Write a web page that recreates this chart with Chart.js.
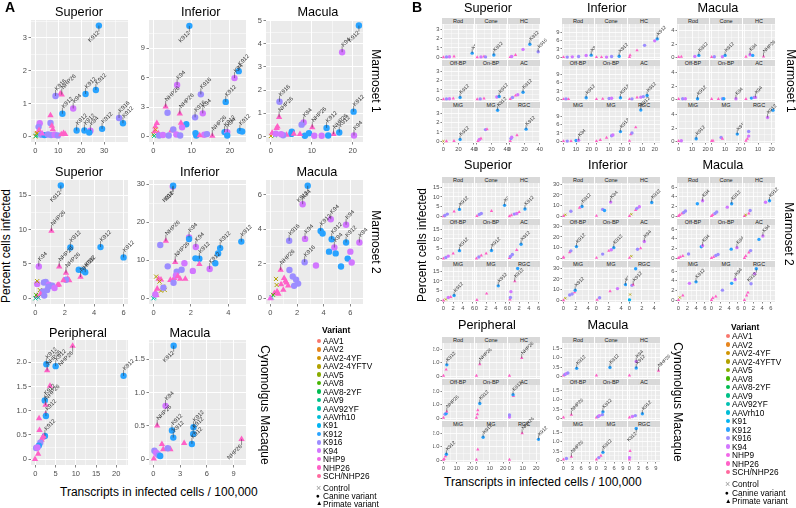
<!DOCTYPE html>
<html>
<head>
<meta charset="utf-8">
<script src="https://cdn.jsdelivr.net/npm/chart.js@4.4.1/dist/chart.umd.min.js"></script>
<style>
  body { margin: 0; background: #fff; }
  #fig { position: relative; width: 796px; height: 508px; overflow: hidden; font-family: "Liberation Sans", Arial, sans-serif; }
  #fig canvas { position: absolute; }
  .t { position: absolute; white-space: nowrap; line-height: 1; color: #000; }
  .strip { position: absolute; background: #D9D9D9; color: #1A1A1A; font-size: 5.5px; text-align: center; height: 6px; line-height: 6px; }
</style>
</head>
<body>
<div id="fig"></div>
<script>
// ---- data ----
const variants = ['AAV1', 'AAV2', 'AAV2-4YF', 'AAV2-4YFTV', 'AAV5', 'AAV8', 'AAV8-2YF', 'AAV9', 'AAV92YF', 'AAVrh10',
  'K91', 'K912', 'K916', 'K94', 'NHP9', 'NHP26', 'SCH/NHP26'];
const cellTypes = ['Rod', 'Cone', 'HC', 'Off-BP', 'On-BP', 'AC', 'MiG', 'MG', 'RGC'];

// panel A points: [transcripts, percent infected, variant, label]
const aM1Sup = [
  [27.7,3.37,'K912','K912'],[11.5,1.27,'NHP26','NHP26'],[10.9,1.3,'NHP26',''],[8.8,1.23,'K916','K916'],
  [11.8,0.69,'K912','K912'],[16.5,0.85,'K94','K94'],[21.9,1.29,'K912','K912'],[26.4,1.41,'K912','K912'],
  [18.0,0.18,'K912','K912'],[21.4,0.18,'K912','K912'],[24.0,0.17,'K94','K94'],[23.5,0.12,'K912',''],
  [29.1,0.23,'K912','K912'],[36.5,0.56,'K916','K916'],[38.2,0.40,'K912','K912'],[6.6,0.64,'NHP26',''],
  [6.6,0.41,'K916',''],[7.2,0.32,'NHP26',''],[7.6,0.21,'NHP26',''],[1.9,0.40,'K94',''],[1.4,0.29,'K916',''],
  [1.6,0.19,'NHP26',''],[0,0,'AAV2-4YFTV',''],[0.5,0.08,'AAV2',''],[1.0,0.05,'AAV8',''],[0.3,0.02,'AAV9',''],
  [1.5,0.03,'AAV92YF',''],[0.8,0.1,'AAV2-4YF',''],[2.6,0.05,'K916',''],[4.0,0.04,'K912',''],[5.5,0.06,'K916',''],
  [6.9,0.04,'K916',''],[8.4,0.05,'K94',''],[9.8,0.03,'K916',''],[11.3,0.06,'NHP26',''],[12.3,0.1,'NHP26',''],
  [13.0,0.07,'NHP26',''],[3.0,0.08,'NHP9','']
];
const aM1Inf = [
  [9.4,11.3,'K912','K912'],[6.2,5.25,'K94','K94'],[3.2,3.03,'NHP26','NHP26'],[3.7,2.42,'K916',''],
  [6.9,2.32,'NHP26','NHP26'],[12.4,4.3,'K916','K916'],[10.9,1.95,'K916','K916'],[12.9,2.36,'K94','K94'],
  [21.2,5.96,'K94','K94'],[22.3,6.67,'K912','K912'],[18.9,3.53,'K912','K912'],[15.4,0.05,'NHP26','NHP26'],
  [18.6,0.44,'K912','K912'],[19.3,0.44,'K94','K94'],[19.3,0.1,'K912',''],[22.6,0.57,'K912','K912'],
  [23.2,0.5,'K912',''],[8.6,1.25,'K912',''],[7.5,0.94,'K94',''],[7.2,1.38,'NHP26',''],[4.7,0.6,'NHP26',''],
  [5.2,0.7,'K916',''],[11.2,0.1,'K912',''],[11.0,0.34,'K912',''],[13.3,0.17,'K94',''],[14.0,0.24,'K916',''],
  [12.1,0.1,'NHP26',''],[0,0.2,'AAV2-4YFTV',''],[0.5,1.0,'NHP26',''],[0.9,1.35,'NHP26',''],[0.3,0.5,'NHP26',''],
  [1.3,0.3,'NHP26',''],[0.2,0.05,'AAV9',''],[1.5,0.1,'K916',''],[2.5,0.15,'K94',''],[4.0,0.1,'K916',''],
  [6.0,0.2,'K94',''],[7.0,0.1,'K916',''],[0.6,0.7,'AAV2','']
];
const aM1Mac = [
  [21.5,4.79,'K912','K912'],[17.4,3.64,'K94','K94'],[2.1,1.5,'K916','K916'],[2.0,0.83,'NHP26','NHP26'],
  [8.0,0.6,'K94','K94'],[7.5,0.51,'K916',''],[10.1,0.39,'NHP26','NHP26'],[13.6,0.37,'K912','K912'],
  [15.3,0.1,'NHP26','NHP26'],[16.7,0.17,'K912','K912'],[20.2,1.07,'K912','K912'],[20.3,0.04,'K94','K94'],
  [5.1,0.2,'K912',''],[5.0,0.11,'K912',''],[8.3,0.03,'K912',''],[9.3,0.14,'K912',''],[10.6,0.03,'K94',''],
  [12.4,0.03,'K94',''],[14.0,0.04,'K912',''],[1.4,0.36,'NHP26',''],[1.6,0.42,'NHP26',''],[3.8,0.07,'NHP26',''],
  [5.6,0.11,'NHP26',''],[7.1,0.1,'NHP26',''],[3.0,0.05,'K916',''],[0,0.02,'AAV2-4YFTV',''],[0.5,0.1,'AAV2',''],
  [1.0,0.05,'AAV9',''],[0.3,0.15,'NHP26',''],[1.2,0.12,'K94',''],[2.5,0.1,'K94','']
];
const aM2Sup = [
  [1.73,16.4,'K912','K912'],[1.09,9.8,'NHP26','NHP26'],[0.23,4.64,'K94','K94'],[1.62,4.6,'NHP26','NHP26'],
  [2.08,3.7,'NHP26','NHP26'],[2.38,7.4,'K912','K912'],[4.43,7.45,'K912','K912'],[6.0,5.95,'K912','K912'],
  [2.95,4.15,'K912',''],[3.23,4.06,'K912',''],[3.39,3.8,'K912','K912'],[3.07,3.1,'NHP26','NHP26'],
  [2.2,2.85,'NHP26',''],[2.3,2.6,'NHP26',''],[2.08,2.7,'K916',''],[1.9,2.6,'NHP26',''],[0.12,2.1,'K94',''],
  [0.58,2.3,'K916',''],[0.7,2.4,'K916',''],[0.92,2.0,'K94',''],[1.15,1.85,'K916',''],[0.88,1.7,'K916',''],
  [1.5,1.9,'NHP26',''],[1.6,2.0,'NHP26',''],[0.12,2.5,'AAV2-4YFTV',''],[0.3,1.2,'AAV2-4YFTV',''],
  [0.5,1.0,'K916',''],[0.35,0.6,'NHP26',''],[0.1,0.3,'NHP26',''],[0,0,'AAV9',''],[0.2,0.1,'AAV92YF',''],
  [0.05,0.5,'AAV8',''],[0.6,0.4,'K916',''],[0.8,1.2,'K916',''],[1.3,1.5,'K94','']
];
const aM2Inf = [
  [1.03,29.4,'K94','K94'],[1.05,29.6,'K912','K912'],[0.66,15.1,'NHP26','NHP26'],[0.36,14.0,'K916',''],
  [1.9,16.0,'K94','K94'],[1.9,15.6,'K912',''],[2.26,13.5,'K94','K94'],[1.16,9.5,'NHP26','NHP26'],
  [2.45,10.4,'K912','K912'],[2.24,10.5,'K912',''],[3.56,13.2,'K912','K912'],[3.45,11.8,'K912',''],
  [4.69,14.9,'K912','K912'],[2.45,8.95,'NHP26',''],[3.0,7.7,'K94','K912'],[3.3,9.2,'K912',''],
  [1.65,9.2,'K94',''],[2.1,7.2,'K94',''],[0.76,8.4,'K916',''],[0.27,5.1,'NHP26',''],[0.4,4.9,'NHP26',''],
  [0.9,4.8,'NHP26',''],[1.1,5.3,'NHP26',''],[1.42,5.1,'NHP26',''],[1.7,5.1,'NHP26',''],[1.5,7.5,'K916',''],
  [1.24,7.0,'K916',''],[1.2,6.0,'K94',''],[1.07,4.1,'K916',''],[1.3,5.8,'NHP26',''],[0.14,5.7,'AAV2-4YFTV',''],
  [0.32,4.4,'AAV2-4YFTV',''],[0.5,3.1,'AAV2-4YFTV',''],[0.6,2.2,'AAV2-4YFTV',''],[0.4,2.0,'AAV2-4YFTV',''],
  [0.53,2.8,'K916',''],[0.1,1.5,'NHP26',''],[0.15,0.8,'NHP26',''],[0.05,0.3,'AAV9',''],[0,0,'AAV92YF',''],
  [0.2,2.5,'NHP26',''],[0.1,1.0,'K94','']
];
const aM2Mac = [
  [2.8,6.52,'K912','K912'],[2.42,5.45,'K94','K94'],[1.41,3.33,'K916','K916'],[2.6,3.44,'K94','K94'],
  [3.77,3.9,'K912','K912'],[3.92,3.75,'K912',''],[4.53,4.58,'K94','K94'],[4.6,3.42,'K912','K912'],
  [5.68,4.26,'K94','K94'],[5.68,3.23,'K912','K912'],[6.68,3.23,'K94','K94'],[4.8,2.94,'K94','K94'],
  [4.4,2.7,'K912',''],[4.9,2.6,'K912',''],[5.8,2.3,'K912',''],[5.3,1.84,'K912',''],[6.0,2.7,'K94',''],
  [6.1,2.07,'K94',''],[2.57,2.09,'K916','K916'],[3.42,1.9,'K94',''],[0.77,1.64,'NHP26','NHP26'],
  [1.43,1.64,'K916',''],[1.68,1.26,'K916',''],[1.93,1.08,'K916',''],[2.08,0.85,'K916',''],[1.78,0.72,'K916',''],
  [1.03,1.16,'NHP26',''],[1.13,1.0,'NHP26',''],[1.33,0.73,'NHP26',''],[0.97,0.48,'NHP26',''],[0.8,0.8,'NHP26',''],
  [1.2,0.9,'NHP26',''],[0.42,1.12,'AAV2-4YFTV',''],[0.47,0.77,'AAV2-4YFTV',''],[0.3,0.3,'NHP26',''],
  [0.5,0.4,'NHP26',''],[0.1,0.05,'AAV92YF',''],[0.2,0.2,'AAV8',''],[0,0,'NHP9',''],[0.6,0.25,'NHP26','']
];
const aCyPer = [
  [9.2,2.34,'NHP26','NHP26'],[2.7,1.96,'K912','K912'],[5.0,1.92,'K912','K912'],[2.9,1.83,'NHP26','NHP26'],
  [21.8,1.72,'K912','K912'],[3.6,1.51,'NHP26',''],[2.3,1.21,'K912','K912'],[2.5,1.12,'NHP26','NHP26'],
  [2.5,0.93,'NHP26',''],[2.6,0.89,'K912','K912'],[0.9,0.84,'NHP26',''],[1.0,0.6,'NHP26',''],
  [2.35,0.48,'K912','K912'],[1.7,0.44,'NHP26',''],[2.0,0.47,'NHP26',''],[1.5,0.4,'NHP26',''],[1.2,0.34,'K916',''],
  [0.84,0.28,'K912',''],[0.17,0.23,'K916',''],[0.5,0.24,'K94',''],[0.67,0.11,'NHP26',''],[-0.1,0.0,'NHP26','']
];
const aCyMac = [
  [2.27,1.70,'K912','K912'],[1.36,0.80,'K94','K94'],[0.42,0.505,'NHP26','NHP26'],[2.08,0.43,'K912','K912'],
  [2.23,0.325,'K912','K912'],[4.5,0.48,'K912','K912'],[4.47,0.38,'K912','K912'],[4.32,0.23,'K912','K912'],
  [9.9,0.30,'NHP26','NHP26'],[0.95,0.225,'NHP26',''],[1.1,0.15,'NHP26',''],[1.9,0.15,'NHP26',''],
  [1.6,0.165,'K916',''],[3.45,0.24,'NHP26',''],[0.11,0.13,'K916',''],[0.3,0.1,'K94',''],[0.45,0.08,'K94',''],
  [0.6,0.06,'K916',''],[0.76,0.05,'K912',''],[0.04,0.01,'NHP26','']
];

// panel B points, one list per cell type (Rod .. RGC)
const bM1Sup = [
  [[0,0.02,'NHP26'],[4,0.05,'K916'],[8,0.07,'K94'],[14,0.1,'NHP26'],[38,0.45,'K912','K912']],
  [[1,0.02,'NHP26'],[6,0.05,'K94'],[10,0.1,'NHP26'],[12,0.05,'K916'],[23,0.25,'K912','K912']],
  [[1,0.05,'NHP26'],[3,0.1,'K94'],[8,0.25,'NHP26'],[18,0.85,'K94'],[27,1.4,'K912','K912'],[38,0.6,'K916','K916']],
  [[0,0.02,'NHP26'],[4,0.05,'K916'],[8,0.07,'K94'],[13,0.1,'NHP26'],[22,0.2,'K912','K912']],
  [[1,0.02,'NHP26'],[5,0.05,'K916'],[10,0.1,'NHP26'],[27,0.25,'K94'],[30,0.3,'K912','K912']],
  [[1,0.05,'NHP26'],[4,0.2,'K916'],[8,0.4,'NHP26'],[11,0.5,'K94'],[18,0.75,'K912','K912']],
  [[0,0.02,'AAV2-4YFTV'],[4,0.02,'NHP26'],[14,0.05,'NHP26'],[22,0.2,'K912','K912']],
  [[2,0.05,'NHP26'],[4,0.2,'K94'],[6,0.3,'NHP26'],[12,1.25,'K916'],[14,1.28,'NHP26'],[28,3.3,'K912','K912']],
  [[1,0.05,'NHP26'],[2,0.3,'K916'],[3,0.45,'K94'],[10,0.65,'NHP26'],[22,1.3,'K912','K912']]
];
const bM1Inf = [
  [[0,0.1,'NHP26'],[3,0.1,'K916'],[7,0.2,'K94'],[12,0.3,'K916'],[18,0.7,'K94'],[22,0.8,'K912','K912']],
  [[0,0.1,'NHP26'],[4,0.1,'NHP26'],[8,0.1,'K94'],[12,0.3,'K916'],[18,0.4,'K912','K912']],
  [[0,0.1,'NHP26'],[0.5,0.8,'NHP26'],[6,2.5,'NHP26'],[12,4.3,'K916'],[20,5.9,'K94'],[22,6.6,'K912','K912']],
  [[0,0.1,'NHP26'],[2,0.2,'K916'],[4,0.1,'NHP26'],[18,0.6,'K912','K912']],
  [[0,0.1,'NHP26'],[5,0.2,'NHP26'],[10,0.3,'K916'],[12,0.4,'K94'],[19,0.6,'K912','K912']],
  [[0,0.1,'NHP26'],[2,0.2,'K916'],[6,0.7,'NHP26'],[9,0.8,'K94'],[11,1.0,'K916'],[14,1.4,'K912','K912']],
  [[0,0.1,'NHP26'],[3,0.1,'K916'],[6,0.1,'NHP26'],[10,0.3,'K912'],[12,0.4,'K94','K94']],
  [[0,0.1,'NHP26'],[3,0.5,'NHP26'],[8,1.3,'NHP26'],[12,2.0,'K916'],[13,2.3,'K94'],[19,3.5,'K912','K912']],
  [[0,0.2,'NHP26'],[1,2.5,'NHP26'],[2,3.0,'K916'],[5,5.0,'NHP26'],[9,11.2,'K912','K912']]
];
const bM1Mac = [
  [[0,0.05,'NHP26'],[2,0.1,'NHP26'],[12,0.15,'K94'],[15,0.3,'K912','K912']],
  [[0,0.05,'NHP26'],[2,0.1,'K916'],[8,0.1,'K94'],[10,0.3,'K912','K912']],
  [[1,0.1,'NHP26'],[4,0.4,'K94','K94'],[6,0.3,'K912'],[14,0.15,'NHP26','NHP26']],
  [[0,0.05,'NHP26'],[3,0.1,'K916'],[5,0.1,'K94'],[14,0.1,'K912','K912']],
  [[0,0.05,'NHP26'],[5,0.05,'NHP26'],[8,0.1,'K916'],[9,0.1,'K912'],[18,0.1,'K94','K94']],
  [[1,0.05,'NHP26'],[5,0.2,'K912'],[7,0.3,'K916'],[8,0.3,'K94','K94']],
  [[0,0.05,'NHP26'],[2,0.1,'K94'],[13,0.4,'K912','K912']],
  [[0,0.05,'NHP26'],[1,0.1,'NHP26'],[7,0.6,'K916'],[8,0.4,'NHP26'],[19,1.1,'K912','K912']],
  [[1,0.1,'NHP26'],[2,0.4,'NHP26'],[3,0.8,'K94'],[3,1.5,'K916'],[17,3.6,'K94','K912'],[21,4.7,'K912']]
];
const bM2Sup = [
  [[0,0.1,'NHP26'],[0.3,0.5,'K916'],[0.8,1.2,'K916'],[2.2,2.5,'NHP26'],[3.3,3.6,'K912','K912']],
  [[0.1,0.2,'NHP26'],[0.6,1.0,'K916'],[1.0,1.5,'K916'],[3.1,2.8,'NHP26'],[5.8,5.7,'K912','K912']],
  [[0,0.1,'NHP26'],[0.4,0.6,'NHP26'],[1,1.2,'K916'],[1.5,1.5,'K94'],[2,2.2,'NHP26'],[3.2,3.8,'K912','K912']],
  [[0,0,'NHP26'],[0.5,0.5,'K916'],[1,1.2,'K94'],[2,2.5,'NHP26'],[3.3,4.0,'K912','K912']],
  [[0,0,'NHP26'],[0.5,0.7,'K916'],[1,1.5,'NHP26'],[2,2.5,'NHP26'],[3.1,4.1,'K912','K912']],
  [[0,0.2,'NHP26'],[0.2,1,'K916'],[0.6,2,'K916'],[1.5,4.3,'NHP26'],[2.4,7.3,'K912','K912']],
  [[0,0,'NHP26'],[0.5,0.5,'AAV2-4YFTV'],[1,1.5,'K94'],[1.5,1.8,'NHP26'],[2.2,2.5,'K912','K912']],
  [[0.1,0.2,'NHP26'],[2.1,3.5,'NHP26'],[4.5,7.5,'K912','K912']],
  [[0.1,0.5,'NHP26'],[0.2,1.5,'K916'],[0.3,4.5,'K94'],[1.1,9.8,'NHP26','K912'],[1.7,16.4,'K912']]
];
const bM2Inf = [
  [[0,0.3,'NHP26'],[0.3,1.5,'AAV2-4YFTV'],[1.2,4.8,'K916'],[2.6,8,'NHP26'],[3,9.2,'K912','K912']],
  [[0,0.5,'NHP26'],[1,6.5,'K916'],[1.3,5.5,'K912'],[2.3,13.3,'K94','K94']],
  [[0,0.3,'NHP26'],[0.3,2,'AAV2-4YFTV'],[1,6,'NHP26'],[1.2,7.5,'K916'],[1.6,9,'K94'],[3.6,13,'K912','K912']],
  [[0,0.5,'NHP26'],[0,1.2,'NHP26'],[1,5.8,'NHP26'],[1.2,7,'K916'],[2.1,11,'K912','K912']],
  [[0,0.5,'NHP26'],[1,4,'K916'],[2,7,'NHP26'],[2.4,8,'K94'],[2.8,10,'K912','K912']],
  [[0,0.5,'NHP26'],[0.3,2,'AAV2-4YFTV'],[1.3,8.5,'K916'],[1.8,9.5,'NHP26'],[2.4,15.8,'K94','K94']],
  [[0,0.2,'NHP26'],[0.3,2,'AAV2-4YFTV'],[1,5,'K916'],[1.4,6,'K916'],[1.8,7.5,'NHP26'],[1.9,9.5,'K912','K912']],
  [[0.1,0.5,'NHP26'],[0.5,2.5,'K916'],[2.2,8.5,'NHP26'],[3.4,11,'K94'],[4.7,14.7,'K912','K912']],
  [[0,0.5,'K91'],[0.1,5.5,'AAV2-4YFTV'],[0.4,14,'K916'],[0.6,14.5,'NHP26','K912'],[1,29.5,'K912']]
];
const bM2Mac = [
  [[0,0.1,'NHP26'],[0.3,0.3,'NHP26'],[0.8,0.6,'NHP26'],[1.2,0.8,'K916'],[1.6,1.1,'K916'],[4.3,2.6,'K912'],[5.5,3.2,'K94','K94']],
  [[0,0.1,'NHP26'],[0.3,0.3,'NHP26'],[0.8,0.6,'K916'],[1.2,0.9,'K916'],[3.6,1.9,'K94'],[4.6,2.6,'K912','K912']],
  [[0,0.1,'NHP26'],[0.3,0.3,'AAV2-4YFTV'],[1,0.6,'NHP26'],[1.3,1.2,'K916'],[4.8,2.9,'K94'],[5.7,3.2,'K912','K912']],
  [[0,0.1,'NHP26'],[0.4,0.3,'NHP26'],[1,0.5,'NHP26'],[2.3,0.9,'K916'],[5.2,2.4,'K912'],[5.5,2.6,'K94','K94']],
  [[0,0.1,'NHP26'],[0.5,0.3,'NHP26'],[1,0.6,'K916'],[1.5,0.8,'K916'],[4.5,1.9,'K912'],[5.8,2.2,'K94','K94']],
  [[0,0.1,'NHP26'],[0.3,0.5,'NHP26'],[1,1.2,'NHP26'],[1.4,1.6,'K916'],[3.3,3.9,'K912'],[4.2,4.6,'K94','K94']],
  [[0,0.1,'NHP26'],[0.3,0.6,'AAV2-4YFTV'],[1,1.0,'NHP26'],[2.5,3.5,'K94'],[4,3.8,'K912','K912']],
  [[0,0.1,'NHP26'],[0.3,0.5,'NHP26'],[1,0.8,'NHP26'],[2.5,2.1,'K916'],[4.6,3.5,'K912'],[5.4,4.3,'K94','K94']],
  [[0,0.1,'NHP26'],[0.5,1.0,'NHP26'],[0.8,1.6,'NHP26'],[1.5,3.4,'K916'],[2.3,5.5,'K94'],[2.7,6.5,'K912','K912']]
];
const bCyPer = [
  [[0,0.05,'NHP26'],[2,0.5,'NHP26'],[2.5,0.85,'K912','K912']],
  [[0,0.05,'NHP26'],[2.5,0.9,'NHP26','NHP26']],
  [[0,0.05,'NHP26'],[9.2,1.35,'NHP26','NHP26']],
  [[0,0.05,'NHP26'],[1.2,0.3,'K916'],[2,0.35,'K912'],[2.5,0.5,'NHP26','NHP26']],
  [[0,0.05,'NHP26'],[0.7,0.3,'NHP26'],[1,0.6,'NHP26'],[2.5,1.1,'K912','K912']],
  [[0,0.1,'K94'],[0,0.25,'K916'],[3,1.65,'NHP26'],[2.7,1.75,'K912','K912']],
  [[0,0.05,'NHP26'],[0.5,0.1,'NHP26'],[1.5,0.3,'NHP26'],[2.2,0.45,'K912','K912']],
  [[0,0.05,'NHP26'],[1,0.8,'NHP26'],[5,1.7,'K912','K912']],
  [[0,0.05,'NHP26'],[9.5,2.0,'NHP26','NHP26'],[21.8,1.55,'K912','K912']]
];
const bCyMac = [
  [[0,0.05,'NHP26'],[0.5,0.1,'K916'],[1,0.15,'K94'],[1.5,0.18,'K916'],[4.5,0.43,'K912','K912']],
  [[0,0.05,'NHP26'],[4.6,0.48,'K912','K912']],
  [[0,0.05,'NHP26'],[2.3,0.8,'K94','K94'],[2.3,0.45,'K912','K912'],[9.9,0.3,'NHP26','NHP26']],
  [[0,0.05,'NHP26'],[2.7,0.2,'NHP26','NHP26']],
  [[0,0.05,'NHP26'],[0.6,0.1,'K916'],[1,0.15,'K94'],[2,0.2,'K916'],[2.2,0.35,'K912','K912']],
  [[0,0.05,'NHP26'],[1,0.1,'K94'],[2,0.15,'K916'],[4.4,0.25,'K912','K912']],
  [[0,0.05,'NHP26'],[1,0.1,'K916'],[2.7,0.2,'NHP26','NHP26']],
  [[0,0.05,'NHP26'],[0.8,0.15,'K916'],[1.5,0.25,'NHP26'],[2.2,0.43,'K912','K912']],
  [[0,0.05,'NHP26'],[0,0.15,'K94'],[0.2,0.5,'NHP26'],[2.3,1.7,'K912','K912']]
];

// tick labels
const aM1SupX = ['0','10','20','30'], aM1SupY = ['0','1','2','3'];
const aM1InfX = ['0','10','20'], aM1InfY = ['0','3','6','9'];
const aM1MacX = ['0','10','20'], aM1MacY = ['0','1','2','3','4','5'];
const aM2SupX = ['0','2','4','6'], aM2SupY = ['0','5','10','15'];
const aM2InfX = ['0','2','4'], aM2InfY = ['0','10','20','30'];
const aM2MacX = ['0','2','4','6'], aM2MacY = ['0','2','4','6'];
const aCyPerX = ['0','5','10','15','20'], aCyPerY = ['0','0.5','1.0','1.5','2.0'];
const aCyMacX = ['0','3','6','9'], aCyMacY = ['0','0.5','1.0','1.5'];
const bM1SupX = ['0','20','40'], bM1MacY = ['0','2','4'];
const bCyPerX = ['0','10','20'], bCyPerY = ['0','1.0','2.0'];

// ---- helpers ----
const fig = document.getElementById('fig');
const FONT = '"Liberation Sans", Arial, sans-serif';

// ggplot-style hue palette (HCL, c=100, l=65)
function hcl(h, c, l) {
  const hr = h * Math.PI / 180;
  const U = c * Math.cos(hr), V = c * Math.sin(hr);
  const Xn = 95.047, Yn = 100, Zn = 108.883;
  const d = Xn + 15 * Yn + 3 * Zn, un = 4 * Xn / d, vn = 9 * Yn / d;
  const Y = l > 8 ? Yn * Math.pow((l + 16) / 116, 3) : Yn * l / 903.3;
  const u = U / (13 * l) + un, v = V / (13 * l) + vn;
  const X = 9 * Y * u / (4 * v);
  const Z = (9 * Y / v - X - 15 * Y) / 3;
  const x = X / 100, y = Y / 100, z = Z / 100;
  const lin = [
    3.240479 * x - 1.537150 * y - 0.498535 * z,
    -0.969256 * x + 1.875992 * y + 0.041556 * z,
    0.055648 * x - 0.204043 * y + 1.057311 * z
  ];
  return '#' + lin.map(c0 => {
    let g = c0 <= 0.0031308 ? 12.92 * c0 : 1.055 * Math.pow(c0, 1 / 2.4) - 0.055;
    g = Math.round(Math.min(1, Math.max(0, g)) * 255);
    return g.toString(16).padStart(2, '0');
  }).join('');
}
const variantColor = {};
variants.forEach((v, i) => { variantColor[v] = hcl(15 + i * 360 / variants.length, 100, 65); });
function shapeOf(v) { return v.startsWith('AAV') ? 'crossRot' : (v.startsWith('K') ? 'circle' : 'triangle'); }

function addText(str, x, y, size, opts = {}) {
  const d = document.createElement('div');
  d.className = 't';
  d.textContent = str;
  d.style.fontSize = size + 'px';
  if (opts.bold) d.style.fontWeight = 'bold';
  if (opts.color) d.style.color = opts.color;
  fig.appendChild(d);
  const w = d.offsetWidth, h = d.offsetHeight;
  d.style.left = (opts.left ? x : x - w / 2) + 'px';
  d.style.top = (y - h / 2) + 'px';
  if (opts.rot) d.style.transform = 'rotate(' + opts.rot + 'deg)';
  return d;
}

// grey panel background
const panelBg = {
  id: 'panelBg',
  beforeDraw(chart) {
    const { ctx, chartArea: a } = chart;
    ctx.save();
    ctx.fillStyle = '#EBEBEB';
    ctx.fillRect(a.left, a.top, a.right - a.left, a.bottom - a.top);
    ctx.restore();
  }
};

// rotated repel-style labels with a short leader
const pointLabels = {
  id: 'pointLabels',
  afterDatasetsDraw(chart, args, opts) {
    const ds = chart.data.datasets[0];
    const meta = chart.getDatasetMeta(0);
    const { ctx, chartArea: a } = chart;
    ctx.save();
    ctx.font = opts.size + 'px ' + FONT;
    ctx.fillStyle = '#333333';
    ctx.strokeStyle = '#333333';
    ctx.lineWidth = 0.5;
    meta.data.forEach((el, i) => {
      const txt = ds.tags[i];
      if (!txt) return;
      const w = ctx.measureText(txt).width * Math.SQRT1_2;
      const up = el.x + w < a.right + opts.slack && el.y - opts.gap - w > a.top - opts.slack;
      const dy = up ? -opts.gap : opts.gap;
      ctx.beginPath();
      ctx.moveTo(el.x, el.y);
      ctx.lineTo(el.x, el.y + dy);
      ctx.stroke();
      ctx.save();
      ctx.translate(el.x, el.y + dy);
      ctx.rotate(-Math.PI / 4);
      ctx.textAlign = up ? 'left' : 'right';
      ctx.textBaseline = 'middle';
      ctx.fillText(txt, up ? 0.5 : -0.5, 0);
      ctx.restore();
    });
    ctx.restore();
  }
};

function axisOpts(range, labels, st, show, dir) {
  const vals = labels.map(Number);
  const step = vals[1] - vals[0];
  return {
    type: 'linear', min: range[0], max: range[1],
    afterFit(s) { if (dir === 'x') s.height = st.xh; else s.width = st.yw; },
    afterBuildTicks(s) {
      const ticks = vals.map(v => ({ value: v }));
      for (let v = vals[0] - step / 2; v <= range[1]; v += step) {
        if (v >= range[0]) ticks.push({ value: v, minor: true });
      }
      ticks.sort((p, q) => p.value - q.value);
      s.ticks = ticks;
    },
    ticks: {
      display: show, autoSkip: false, maxRotation: 0, minRotation: 0,
      font: { size: st.font, family: FONT }, color: '#4D4D4D', padding: st.tpad,
      callback: (v, i, t) => {
        if (t[i] && t[i].minor) return '';
        const k = vals.findIndex(u => Math.abs(u - v) < 1e-9);
        return k < 0 ? '' : labels[k];
      }
    },
    grid: {
      color: '#FFFFFF',
      lineWidth: c => (c.tick && c.tick.minor) ? st.gw / 2 : st.gw,
      drawTicks: show, tickLength: st.tl, tickWidth: 0.6,
      tickColor: c => (c.tick && c.tick.minor) ? 'rgba(0,0,0,0)' : '#333333'
    },
    border: { display: false }
  };
}

function drawPanel(x, y, w, h, pts, xr, yr, xLab, yLab, st, showX, showY) {
  const cv = document.createElement('canvas');
  const W = w + st.yw + st.padR, H = h + st.padT + st.xh;
  cv.width = W; cv.height = H;
  cv.style.left = (x - st.yw) + 'px';
  cv.style.top = (y - st.padT) + 'px';
  fig.appendChild(cv);
  const cols = pts.map(p => variantColor[p[2]]);
  const shapes = pts.map(p => shapeOf(p[2]));
  new Chart(cv, {
    type: 'scatter',
    data: {
      datasets: [{
        data: pts.map(p => ({ x: p[0], y: p[1] })),
        tags: pts.map(p => p[3] || ''),
        pointStyle: shapes,
        pointRadius: shapes.map(s => s === 'triangle' ? st.r * 1.15 : (s === 'crossRot' ? st.r * 0.9 : st.r)),
        pointBackgroundColor: cols,
        pointBorderColor: cols,
        pointBorderWidth: shapes.map(s => s === 'crossRot' ? st.lw : 0)
      }]
    },
    options: {
      responsive: false, animation: false, events: [],
      layout: { padding: { top: st.padT, right: st.padR, left: 0, bottom: 0 } },
      plugins: {
        legend: { display: false }, tooltip: { enabled: false },
        pointLabels: { size: st.lab, gap: st.gap, slack: st.slack }
      },
      scales: { x: axisOpts(xr, xLab, st, showX, 'x'), y: axisOpts(yr, yLab, st, showY, 'y') }
    },
    plugins: [panelBg, pointLabels]
  });
}

// ---- panel A ----
const stA = { yw: 16, xh: 11, padT: 14, padR: 22, font: 7.5, tpad: 1.5, tl: 2.5, gw: 1, r: 3.2, lw: 1, lab: 5.7, gap: 6, slack: 6 };
const colA = [31, 149, 266], rowA = [20, 180, 340], wA = 97, hA = [122, 124, 125];
drawPanel(colA[0], rowA[0], wA, hA[0], aM1Sup, [-1.9, 40.4], [-0.17, 3.54], aM1SupX, aM1SupY, stA, true, true);
drawPanel(colA[1], rowA[0], wA, hA[0], aM1Inf, [-1.15, 24.2], [-0.57, 11.9], aM1InfX, aM1InfY, stA, true, true);
drawPanel(colA[2], rowA[0], wA, hA[0], aM1Mac, [-1.2, 22.5], [-0.24, 5.03], aM1MacX, aM1MacY, stA, true, true);
drawPanel(colA[0], rowA[1], wA, hA[1], aM2Sup, [-0.3, 6.3], [-0.82, 17.2], aM2SupX, aM2SupY, stA, true, true);
drawPanel(colA[1], rowA[1], wA, hA[1], aM2Inf, [-0.24, 4.94], [-1.5, 31.1], aM2InfX, aM2InfY, stA, true, true);
drawPanel(colA[2], rowA[1], wA, hA[1], aM2Mac, [-0.33, 6.95], [-0.33, 6.85], aM2MacX, aM2MacY, stA, true, true);
drawPanel(colA[0], rowA[2], wA, hA[2], aCyPer, [-1.1, 22.9], [-0.12, 2.46], aCyPerX, aCyPerY, stA, true, true);
drawPanel(colA[1], rowA[2], wA, hA[2], aCyMac, [-0.5, 10.4], [-0.085, 1.785], aCyMacX, aCyMacY, stA, true, true);

addText('A', 10, 7, 14, { bold: true });
addText('Superior', 79, 12, 12.7); addText('Inferior', 201, 12, 12.7); addText('Macula', 318, 12, 12.7);
addText('Superior', 79, 172, 12.7); addText('Inferior', 200, 172, 12.7); addText('Macula', 317, 172, 12.7);
addText('Peripheral', 78, 333, 12.7); addText('Macula', 190, 333, 12.7);
addText('Marmoset 1', 375, 81, 12, { rot: 90 });
addText('Marmoset 2', 375, 242, 12, { rot: 90 });
addText('Cynomolgus Macaque', 264, 405, 12, { rot: 90 });
addText('Percent cells infected', 6, 246, 12, { rot: -90 });
addText('Transcripts in infected cells / 100,000', 159, 492, 12);

// ---- panel B ----
const stB = { yw: 9, xh: 8, padT: 14, padR: 16, font: 5.8, tpad: 1, tl: 1.5, gw: 0.8, r: 1.7, lw: 0.8, lab: 4.8, gap: 4, slack: 10 };
function facetGroup(gx, gy, facets, xr, yr, xLab, yLab) {
  facets.forEach((pts, k) => {
    const c = k % 3, r = Math.floor(k / 3);
    const fx = gx + c * 33, fy = gy + r * 42;
    const s = document.createElement('div');
    s.className = 'strip';
    s.textContent = cellTypes[k];
    s.style.left = fx + 'px'; s.style.top = fy + 'px'; s.style.width = '32px';
    fig.appendChild(s);
    drawPanel(fx, fy + 6, 32, 35, pts, xr, yr, xLab, yLab, stB, r === 2, c === 0);
  });
}
facetGroup(442, 18, bM1Sup, [-1.9, 40.4], [-0.17, 3.54], bM1SupX, aM1SupY);
facetGroup(562, 18, bM1Inf, [-1.15, 24.2], [-0.57, 11.9], aM1InfX, aM1InfY);
facetGroup(677, 18, bM1Mac, [-1.2, 22.5], [-0.24, 5.03], aM1MacX, bM1MacY);
facetGroup(442, 177, bM2Sup, [-0.3, 6.3], [-0.82, 17.2], aM2SupX, aM2SupY);
facetGroup(562, 177, bM2Inf, [-0.24, 4.94], [-1.5, 31.1], aM2InfX, aM2InfY);
facetGroup(677, 177, bM2Mac, [-0.33, 6.95], [-0.33, 6.85], aM2MacX, aM2MacY);
facetGroup(442, 337, bCyPer, [-1.1, 22.9], [-0.12, 2.46], bCyPerX, bCyPerY);
facetGroup(562, 337, bCyMac, [-0.5, 10.4], [-0.085, 1.785], aCyMacX, aCyMacY);

addText('B', 417, 7, 14, { bold: true });
addText('Superior', 488, 8, 12.7); addText('Inferior', 607, 8, 12.7); addText('Macula', 718, 8, 12.7);
addText('Superior', 488, 165, 12.7); addText('Inferior', 608, 165, 12.7); addText('Macula', 723, 165, 12.7);
addText('Peripheral', 487, 325, 12.7); addText('Macula', 608, 325, 12.7);
addText('Marmoset 1', 790, 81, 12, { rot: 90 });
addText('Marmoset 2', 788, 234, 12, { rot: 90 });
addText('Cynomolgus Macaque', 677, 402, 12, { rot: 90 });
addText('Percent cells infected', 422, 245, 12, { rot: -90 });
addText('Transcripts in infected cells / 100,000', 543, 482, 12);

// ---- legends ----
function legend(dotX, titleY, y0, dy, shapeYs) {
  addText('Variant', dotX + 3, titleY, 8.5, { bold: true, left: true });
  variants.forEach((v, i) => {
    const y = y0 + i * dy;
    const dot = document.createElement('div');
    dot.style.cssText = 'position:absolute;width:4.6px;height:4.6px;border-radius:50%;background:' + variantColor[v] +
      ';left:' + (dotX - 2.3) + 'px;top:' + (y - 2.3) + 'px;';
    fig.appendChild(dot);
    addText(v, dotX + 4, y, 8.3, { left: true });
  });
  addText('\u00D7', dotX - 3, shapeYs[0], 9, { left: true, color: '#999999' });
  addText('Control', dotX + 4, shapeYs[0], 8.3, { left: true });
  addText('\u25CF', dotX - 3, shapeYs[1], 6.5, { left: true });
  addText('Canine variant', dotX + 4, shapeYs[1], 8.3, { left: true });
  addText('\u25B2', dotX - 3, shapeYs[2], 6.5, { left: true });
  addText('Primate variant', dotX + 4, shapeYs[2], 8.3, { left: true });
}
legend(319, 330, 341, 8.44, [488, 496, 503.5]);
legend(728, 327, 336, 8.5, [484, 493, 501]);
</script>
</body>
</html>
